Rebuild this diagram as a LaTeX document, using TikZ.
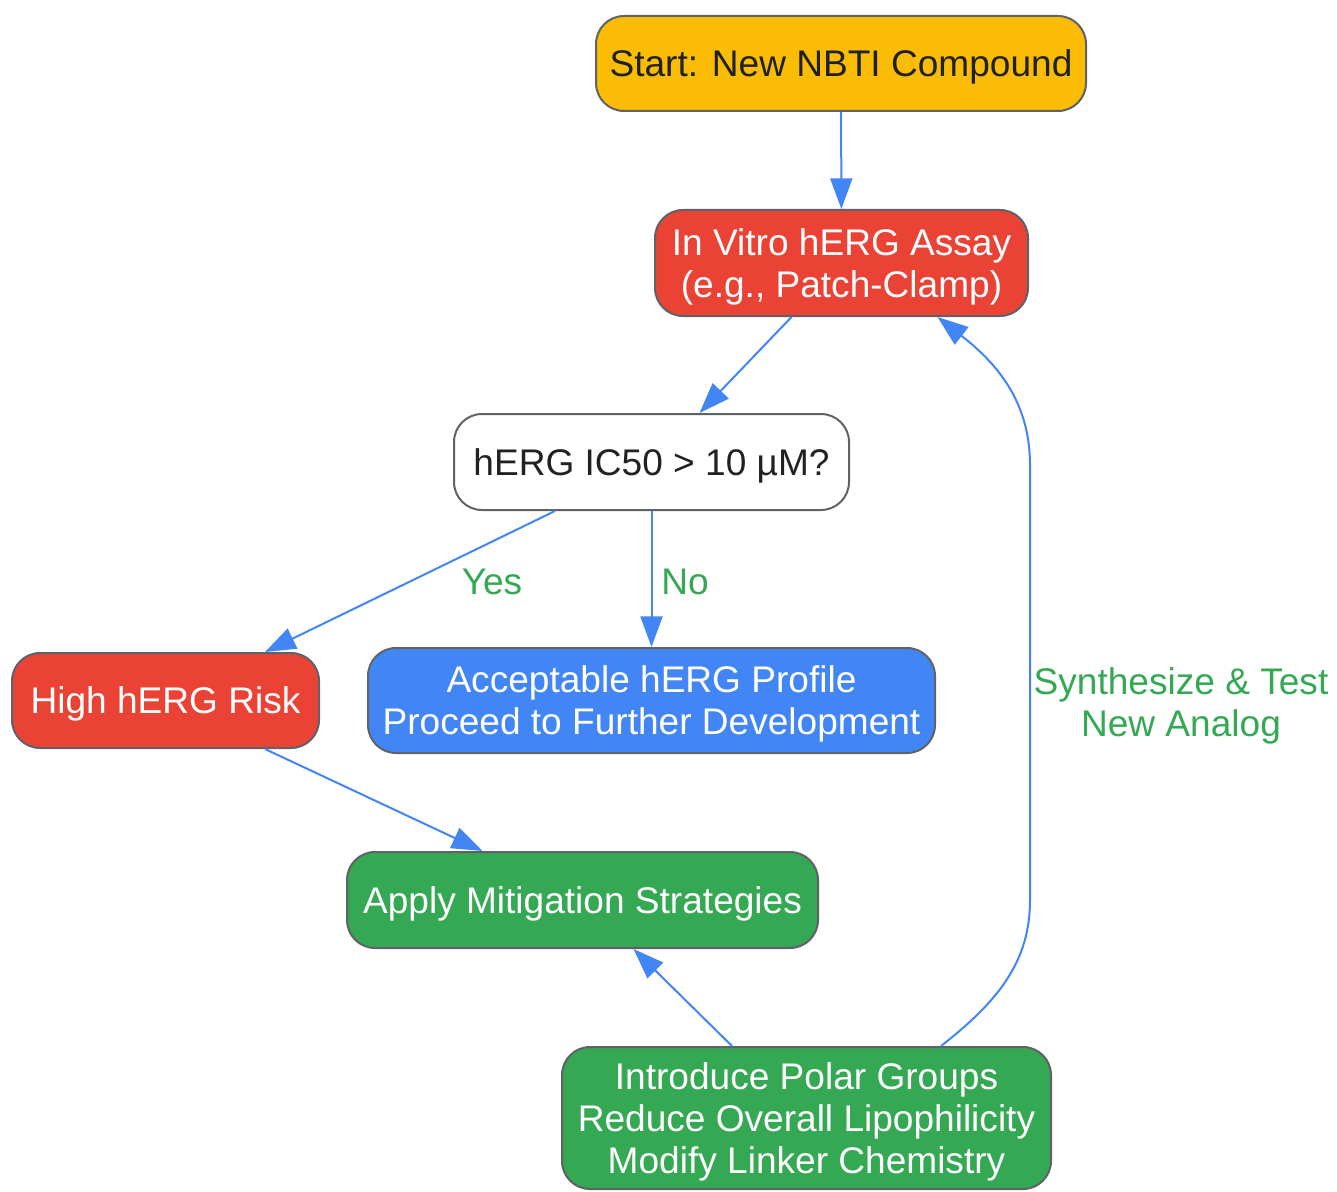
\documentclass[tikz,border=0pt]{standalone}
\usepackage{fontspec}
\setmainfont{Liberation Sans}
\usetikzlibrary{arrows.meta,calc}

\definecolor{gyellow}{HTML}{FBBC05}
\definecolor{gred}{HTML}{EA4335}
\definecolor{gblue}{HTML}{4285F4}
\definecolor{ggreen}{HTML}{34A853}
\definecolor{gborder}{HTML}{5F6368}
\definecolor{gtext}{HTML}{202124}

\tikzset{
  box/.style={draw=gborder, line width=1.5pt, rounded corners=21pt,
    align=center, inner sep=0pt, text=gtext, text depth=-6pt,
    font=\fontsize{27.8}{31.5}\selectfont},
  boxsize/.style 2 args={minimum width=#1*0.75pt, minimum height=#2*0.75pt},
  flow/.style={draw=gblue, line width=1.5pt,
    -{Triangle[length=23pt,width=16.5pt]}},
  lbl/.style={text=ggreen, align=center, inner sep=0pt,
    font=\fontsize{27.8}{31.5}\selectfont}
}

\begin{document}
\begin{tikzpicture}[x=0.75pt,y=-0.75pt]
  \useasboundingbox (0,0) rectangle (1337,1191);

  \node[box,boxsize={490}{95},fill=gyellow] (start) at (841,63.5) {Start: New NBTI Compound};
  \node[box,boxsize={373}{106},fill=gred,text=white] (assay) at (841.5,263) {In Vitro hERG Assay\\(e.g., Patch-Clamp)};
  \node[box,boxsize={395}{96},fill=white] (dec) at (651.5,462) {hERG IC50 > 10 µM?};
  \node[box,boxsize={307}{95},fill=gred,text=white] (high) at (165.5,700.5) {High hERG Risk};
  \node[box,boxsize={567}{105},fill=gblue,text=white] (accept) at (651.5,700.5) {Acceptable hERG Profile\\Proceed to Further Development};
  \node[box,boxsize={471}{96},fill=ggreen,text=white] (apply) at (582.5,900) {Apply Mitigation Strategies};
  \node[box,boxsize={489}{142},fill=ggreen,text=white] (intro) at (806.5,1118) {Introduce Polar Groups\\Reduce Overall Lipophilicity\\Modify Linker Chemistry};

  \node[lbl] (yes) at (492,582) {Yes};
  \node[lbl] (no) at (685,582) {No};
  \node[lbl] (synth) at (1181,706) {Synthesize \& Test\\New Analog};

  \draw[flow] (start) -- (assay);
  \draw[flow] ($(assay.south)+(-50,0)$) -- ($(dec.north)+(48,0)$);
  \draw[flow] ($(dec.south)+(-96.5,0)$) -- ($(high.north)+(99.5,0)$);
  \draw[flow] (dec) -- (accept);
  \draw[flow] ($(high.south)+(99.5,0)$) -- ($(apply.north)+(-100,0)$);
  \draw[flow] ($(intro.north)+(-74.5,0)$) -- ($(apply.south)+(51,0)$);
  \draw[flow] ($(intro.north)+(134.5,0)$) .. controls (1000,1000) and (1030,960) .. (1030,900)
    -- (1030,465) .. controls (1030,400) and (995,362) .. ($(assay.south)+(96,0)$);
\end{tikzpicture}
\end{document}
